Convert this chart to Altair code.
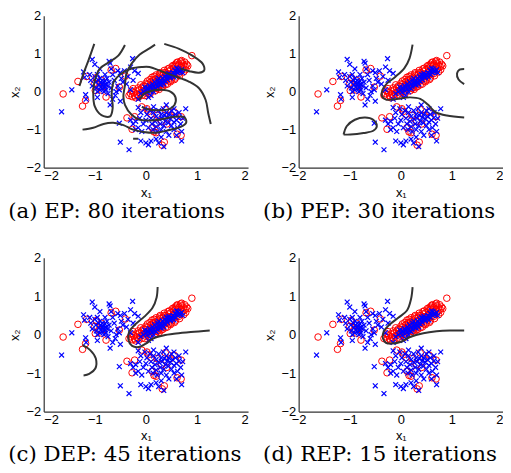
import altair as alt
import pandas as pd

# ---------------- data ----------------
blue_pts = [
    (-1.65,-0.53),(-1.45,0.05),(-1.22,0.52),(-1.20,0.38),(-1.18,-0.08),(-1.17,-0.20),
    (-1.10,0.45),(-1.08,0.30),(-1.05,0.85),(-1.00,0.72),(-1.00,0.40),(-0.98,0.25),
    (-0.97,0.10),(-0.95,0.45),(-0.95,0.00),(-0.93,0.30),(-0.92,0.18),(-0.90,0.35),
    (-0.90,0.05),(-0.88,0.25),(-0.88,0.12),(-0.86,0.20),(-0.85,0.30),(-0.85,0.08),
    (-0.84,0.16),(-0.83,0.22),(-0.82,0.00),(-0.80,0.28),(-0.80,0.12),(-0.78,0.20),
    (-0.78,0.05),(-0.76,0.35),(-0.75,0.15),(-0.74,-0.05),(-0.72,0.25),(-0.72,0.80),
    (-0.70,0.75),(-0.68,0.60),(-0.70,-0.35),(-0.68,0.10),(-0.65,0.45),(-0.62,0.30),
    (-0.60,-0.10),(-0.58,0.00),(-0.55,0.15),(-0.52,0.05),(-0.50,-0.25),(-0.50,0.50),
    (-0.48,0.35),(-0.45,0.25),(-0.42,0.55),(-0.38,0.20),(-0.35,0.40),(-0.30,0.65),
    (-0.26,0.87),(-0.22,0.55),(-0.15,0.48),(-0.25,0.30),(-0.30,0.05),(-0.80,0.45),
    (-0.95,-0.15),(-1.05,0.15),(-0.65,-0.20),(-0.55,0.55),(-0.90,0.60),
    (-0.52,-0.83),(-0.50,-1.33),(-0.33,-1.53),
    (-0.15,-0.42),(-0.10,-0.55),(-0.12,-0.70),(-0.20,-0.78),(-0.05,-0.85),(-0.15,-0.95),
    (-0.08,-1.05),(0.00,-0.75),(0.02,-0.60),(0.05,-0.95),(0.08,-0.50),(0.10,-0.70),
    (0.12,-0.85),(0.14,-1.00),(0.15,-0.55),(0.18,-0.78),(0.20,-0.65),(0.20,-0.92),
    (0.22,-1.05),(0.25,-0.50),(0.26,-0.72),(0.28,-0.85),(0.30,-0.60),(0.30,-1.00),
    (0.32,-0.70),(0.34,-0.45),(0.35,-0.90),(0.36,-0.62),(0.38,-0.78),(0.40,-0.55),
    (0.40,-1.05),(0.42,-0.68),(0.44,-0.82),(0.45,-0.60),(0.48,-0.72),(0.50,-0.50),
    (0.50,-0.90),(0.52,-0.65),(0.55,-0.80),(0.58,-0.60),(0.60,-0.75),(0.62,-0.95),
    (0.65,-0.55),(0.68,-0.85),(0.70,-1.05),(0.70,-1.30),(0.72,-0.70),(0.78,-0.45),
    (0.55,-1.00),(0.45,-1.15),(0.30,-1.20),(0.20,-1.25),(0.10,-1.30),(0.00,-1.35),
    (0.05,-1.40),(-0.10,-1.30),(0.25,-1.35),(0.35,-1.45),(-0.20,-1.00),(-0.25,-0.85),
    (-0.30,-0.75),(0.60,-1.15),(0.15,-0.40),(-0.02,-0.45),(0.40,-0.35),(0.55,-0.45),
    (0.65,-0.68),
    (-0.10,-0.05),(-0.05,0.00),(0.00,0.05),(0.02,-0.02),(0.05,0.08),(0.08,0.02),
    (0.10,0.12),(0.12,0.06),(0.15,0.15),(0.18,0.10),(0.20,0.20),(0.22,0.14),
    (0.25,0.22),(0.28,0.18),(0.30,0.28),(0.32,0.24),(0.35,0.30),(0.38,0.28),
    (0.40,0.36),(0.42,0.32),(0.45,0.40),(0.48,0.36),(0.50,0.45),(0.52,0.42),
    (0.55,0.48),(0.58,0.45),(0.60,0.52),(0.62,0.50),(0.65,0.55),(0.70,0.58),
    (0.05,-0.15),(0.10,-0.10),(-0.15,-0.20),(0.72,0.50),
    (0.03,0.10),(0.07,0.16),(0.13,0.20),(0.17,0.26),(0.23,0.30),(0.27,0.26),
    (0.33,0.36),(0.37,0.40),(0.43,0.44),(0.47,0.42),(0.53,0.50),(0.57,0.56),
    (0.63,0.60),(0.67,0.52),(0.20,0.08),(0.35,0.20),(0.15,0.00),(-0.02,0.12),
    (0.40,0.45),(0.25,0.35),(0.55,0.38),(0.60,0.62),(0.45,0.48),(0.30,0.18),
]

red_pts = [
    (-0.33,-0.10),(-0.30,-0.05),(-0.27,-0.13),(-0.24,-0.03),(-0.22,-0.11),(-0.19,0.02),
    (-0.17,-0.08),(-0.14,-0.14),(-0.13,0.05),(-0.11,-0.03),(-0.08,0.10),(-0.07,-0.09),
    (-0.05,0.03),(-0.02,0.14),(0.00,-0.04),(0.02,0.08),(0.04,0.20),(0.05,0.00),
    (0.07,0.13),(0.09,0.25),(0.10,0.05),(0.12,0.18),(0.14,0.28),(0.15,0.10),
    (0.17,0.22),(0.19,0.33),(0.20,0.14),(0.22,0.26),(0.24,0.38),(0.25,0.18),
    (0.27,0.30),(0.29,0.42),(0.30,0.22),(0.32,0.35),(0.34,0.45),(0.35,0.26),
    (0.37,0.38),(0.39,0.50),(0.40,0.30),(0.42,0.42),(0.44,0.54),(0.45,0.35),
    (0.47,0.46),(0.49,0.58),(0.50,0.40),(0.52,0.50),(0.54,0.62),(0.55,0.44),
    (0.57,0.54),(0.59,0.66),(0.60,0.48),(0.62,0.58),(0.64,0.70),(0.66,0.55),
    (0.68,0.64),(0.70,0.75),(0.72,0.60),(0.74,0.70),(0.77,0.66),(0.80,0.72),
    (0.90,0.95),(0.55,0.70),(0.35,0.50),(0.15,0.32),(-0.05,0.15),(0.45,0.28),
    (0.25,0.12),(0.65,0.48),
    (-0.28,0.02),(-0.20,-0.16),(-0.10,0.18),(-0.02,-0.10),(0.03,0.28),(0.08,-0.06),
    (0.12,0.38),(0.18,0.02),(0.20,0.44),(0.26,0.06),(0.28,0.50),(0.33,0.14),
    (0.36,0.56),(0.42,0.20),(0.46,0.62),(0.50,0.30),(0.52,0.68),(0.58,0.36),
    (0.60,0.76),(0.66,0.42),(0.70,0.82),(0.74,0.52),(0.78,0.58),(0.82,0.68),
    (0.76,0.78),(0.62,0.78),(0.08,0.32),(0.16,0.40),(0.22,0.08),(0.30,0.12),
    (0.38,0.18),(0.48,0.26),(0.56,0.32),(0.43,0.60),(0.27,0.46),(-0.15,0.10),
    (-0.25,0.08),(0.00,0.22),(0.68,0.80),(0.58,0.72),
    (-1.62,-0.06),(-1.33,0.27),(-1.24,-0.38),(-1.18,-0.23),(-1.16,0.40),(-1.00,0.22),
    (-0.97,0.37),(-0.99,0.03),(-0.87,0.30),(-0.82,0.14),(-0.78,-0.14),(-0.92,0.12),
    (-0.68,0.57),(-0.59,0.61),(-0.40,0.41),(-0.52,0.12),(-0.86,0.04),
    (-0.37,-0.69),(-0.27,-0.99),(-0.08,-0.40),(0.02,-0.45),(0.10,-0.60),(0.12,-0.95),
    (0.16,-1.06),(0.20,-1.08),(0.22,-0.62),(0.31,-0.78),(0.38,-0.47),(0.41,-0.85),
    (0.55,-0.53),(0.69,-0.66),(0.61,-1.12),(0.69,-1.15),(0.36,-1.33),(0.32,-1.41),
    (-0.22,-0.66),(0.20,-0.85),(0.05,-0.52),(0.48,-0.62),
]

# contour curves, one list per curve
A1 = [(-1.30,0.15),(-1.21,0.52),(-1.12,0.84),(-1.01,1.26)]
A2 = [(-0.41,1.23),(-0.54,0.95),(-0.74,0.76),(-0.90,0.61),(-1.00,0.30),(-1.03,-0.04),
      (-1.00,-0.39),(-0.87,-0.62),(-0.70,-0.65),(-0.65,-0.43),(-0.67,-0.04),(-0.63,0.26),
      (-0.48,0.48),(-0.28,0.61),(-0.08,0.65),(0.07,0.65),(0.26,0.56),(0.52,0.43),
      (0.85,0.26),(1.04,0.09),(1.17,-0.22),(1.22,-0.56),(1.27,-0.85)]
A3 = [(0.18,1.24),(0.07,1.14),(-0.12,0.98),(-0.28,0.74),(-0.38,0.48),(-0.41,0.17),
      (-0.44,-0.13),(-0.41,-0.35),(-0.28,-0.61),(-0.12,-0.74),(0.07,-0.76),(0.26,-0.74),
      (0.52,-0.67),(0.75,-0.67),(0.79,-0.81),(0.68,-0.93),(0.46,-1.01),(0.20,-1.08),
      (-0.05,-1.06),(-0.25,-1.00),(-0.44,-0.88),(-0.64,-0.82),(-0.83,-0.85),(-1.03,-0.95),
      (-1.24,-1.00)]
A4 = [(-0.13,-0.22),(-0.03,-0.05),(0.10,0.02),(0.30,0.05),(0.48,0.00),(0.58,-0.15),
      (0.56,-0.35),(0.45,-0.46),(0.25,-0.49),(0.05,-0.47),(-0.08,-0.40)]
A5 = [(0.36,1.26),(0.65,1.13),(0.91,0.95),(1.11,0.74),(1.14,0.56),(1.04,0.50),
      (0.85,0.54),(0.68,0.61)]
A6 = [(-0.25,-1.24),(-0.15,-1.24)]

B1 = [(0.23,1.24),(0.17,0.88),(0.07,0.62),(-0.11,0.39),(-0.27,0.22),(-0.36,0.05),
      (-0.37,-0.12),(-0.29,-0.21),(-0.08,-0.19),(0.18,-0.15),(0.38,-0.19),(0.53,-0.34),
      (0.67,-0.53),(0.90,-0.63),(1.24,-0.68)]
B2 = [(-1.12,-1.13),(-1.06,-0.91),(-0.90,-0.74),(-0.70,-0.68),(-0.54,-0.74),(-0.47,-0.91),
      (-0.54,-1.03),(-0.73,-1.09),(-0.99,-1.13),(-1.12,-1.13)]
B3 = [(1.24,0.60),(1.15,0.58),(1.10,0.48),(1.13,0.32),(1.24,0.20)]

C1 = [(0.23,1.24),(0.21,0.97),(0.13,0.70),(-0.03,0.47),(-0.23,0.24),(-0.33,0.07),
      (-0.34,-0.15),(-0.27,-0.29),(-0.14,-0.32),(0.00,-0.23),(0.14,-0.10),(0.34,-0.02),
      (0.59,0.03),(0.88,0.07),(1.25,0.11)]
C2 = [(-1.24,-0.27),(-1.09,-0.40),(-0.98,-0.62),(-0.99,-0.88),(-1.11,-1.02),(-1.22,-1.06)]

D1 = [(0.23,1.24),(0.20,0.93),(0.12,0.63),(-0.05,0.44),(-0.24,0.24),(-0.34,0.07),
      (-0.35,-0.10),(-0.29,-0.21),(-0.18,-0.23),(-0.01,-0.19),(0.18,-0.06),(0.44,0.04),
      (0.70,0.09),(0.96,0.11),(1.24,0.11)]

captions = ["(a) EP: 80 iterations", "(b) PEP: 30 iterations",
            "(c) DEP: 45 iterations", "(d) REP: 15 iterations"]
panel_curves = [[A1, A2, A3, A4, A5, A6], [B1, B2, B3], [C1, C2], [D1]]
ticks = [-2, -1, 0, 1, 2]

# ---------------- chart ----------------
blue_df = pd.DataFrame(blue_pts, columns=["x", "y"])
red_df = pd.DataFrame(red_pts, columns=["x", "y"])

SANS = "Liberation Sans"
W = 206


def panel(curves, caption, height, right_side, xtp, cap_off):
    rows = []
    for cid, pts in enumerate(curves):
        for i, (x, y) in enumerate(pts):
            rows.append({"x": x, "y": y, "c": cid, "i": i})
    cdf = pd.DataFrame(rows)
    xs = alt.Scale(domain=[-2, 2], nice=False, zero=False)
    ys = alt.Scale(domain=[-2, 2], nice=False, zero=False)
    xkw = dict(values=ticks, title="x\u2081", grid=False, ticks=False,
               labelPadding=2, titlePadding=xtp)
    if right_side:
        xkw["labelAlign"] = {"condition": {"test": "datum.value == 2", "value": "right"},
                             "value": "center"}
    xax = alt.Axis(**xkw)
    yax = alt.Axis(values=ticks, title="x\u2082", grid=False, ticks=False,
                   labelPadding=3, titlePadding=5)
    X = alt.X("x:Q", scale=xs, axis=xax)
    Y = alt.Y("y:Q", scale=ys, axis=yax)
    red = alt.Chart(red_df).mark_point(shape="circle", filled=False, color="#ff0000",
                                       size=44, strokeWidth=1, opacity=1).encode(x=X, y=Y)
    blue = alt.Chart(blue_df).mark_point(shape="M-1,-1L1,1M-1,1L1,-1", filled=False,
                                         color="#0000ff", size=24, strokeWidth=1.2,
                                         opacity=1).encode(x=X, y=Y)
    lines = alt.Chart(cdf).mark_line(color="#333333", strokeWidth=2,
                                     interpolate="catmull-rom").encode(
        x=X, y=Y, detail="c:N", order="i:Q")
    return alt.layer(red, blue, lines).properties(
        width=W, height=height,
        title=alt.TitleParams(caption, orient="bottom", frame="bounds", anchor="start",
                              font="DejaVu Serif", fontSize=21.5, fontWeight="normal",
                              color="black", offset=cap_off))


pa = panel(panel_curves[0], captions[0], 153, False, 4, 2)
pb = panel(panel_curves[1], captions[1], 153, True, 4, 2)
pc = panel(panel_curves[2], captions[2], 155, False, 3, 2)
pd_ = panel(panel_curves[3], captions[3], 155, True, 3, 2)

chart = alt.vconcat(
    alt.hconcat(pa, pb, spacing=15),
    alt.hconcat(pc, pd_, spacing=15),
    spacing=29,
).properties(
    padding={"left": 0, "top": 0, "right": 0, "bottom": 0}
).configure_view(stroke=None).configure_axis(
    labelFont=SANS, titleFont=SANS, labelFontSize=13, titleFontSize=13,
    titleFontWeight="normal", labelColor="black", titleColor="black",
    domainColor="#333333", domainWidth=1.2,
)

chart.save("out.html", embed_options={"renderer": "svg", "actions": False})
